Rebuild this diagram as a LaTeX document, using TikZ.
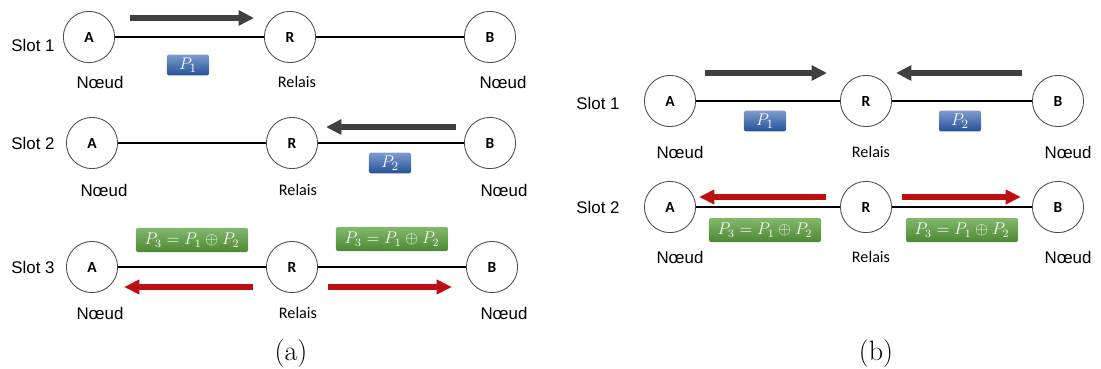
\documentclass[tikz,border=0pt]{standalone}
\usepackage{amsmath,amssymb}
\usepackage{fontspec}
\newfontfamily\labfont{Liberation Sans}
\newfontfamily\calfont{Carlito}
\usetikzlibrary{arrows.meta,positioning}

\definecolor{darkarrow}{RGB}{64,64,64}
\definecolor{redarrow}{RGB}{190,16,16}
\definecolor{pblue}{RGB}{40,90,170}
\definecolor{pgreen}{RGB}{90,160,60}

\tikzset{
  station/.style={circle,draw=black!70,semithick,fill=white,inner sep=0pt,
    minimum size=1.28cm,font=\calfont\fontsize{11}{13}\selectfont\bfseries},
  link/.style={draw=black,line width=0.9pt},
  sendarrow/.style={draw=darkarrow,line width=4.3pt,
    -{Triangle[length=11pt,width=10.5pt]}},
  xorarrow/.style={draw=redarrow,line width=3.6pt,
    -{Triangle[length=11pt,width=10pt]}},
  pkt/.style={rounded corners=1.5pt,minimum width=1.05cm,minimum height=0.52cm,
    inner sep=0pt,text=white,font=\fontsize{12.5}{14}\selectfont,
    top color=pblue!60!white,bottom color=pblue!90!black},
  xorpkt/.style={rounded corners=1.5pt,minimum width=2.8cm,minimum height=0.6cm,
    inner sep=0pt,text=white,font=\fontsize{12}{14}\selectfont,
    top color=pgreen!75!white,bottom color=pgreen!85!black},
  slotlab/.style={font=\labfont\fontsize{12}{14}\selectfont},
  noeud/.style={font=\labfont\fontsize{12}{14}\selectfont},
  relais/.style={font=\calfont\fontsize{11.5}{13}\selectfont},
  caption/.style={font=\fontsize{20}{24}\selectfont}
}

\begin{document}
\begin{tikzpicture}[x=0.025cm,y=-0.025cm]
\useasboundingbox (0,0) rectangle (1101,369);

%------------------------------------- (a) slot 1
\node[station] (a1A) at (89,37) {A};
\node[station] (a1R) at (290,37) {R};
\node[station] (a1B) at (490,37) {B};
\draw[link] (a1A) -- (a1R);
\draw[link] (a1R) -- (a1B);
\coordinate (a1s) at (130,18);
\coordinate (a1e) at (254,18);
\draw[sendarrow] (a1s) -- (a1e);
\node[pkt] (a1P) at (188,65) {$P_1$};
\node[slotlab] (a1lab) at (33,45) {Slot 1};
\node[noeud] (a1nA) at (100,82) {Nœud};
\node[relais] (a1nR) at (297,82) {Relais};
\node[noeud] (a1nB) at (503,82) {Nœud};

%------------------------------------- (a) slot 2
\node[station] (a2A) at (92,143) {A};
\node[station] (a2R) at (292,143) {R};
\node[station] (a2B) at (490,143) {B};
\draw[link] (a2A) -- (a2R);
\draw[link] (a2R) -- (a2B);
\coordinate (a2s) at (456,127);
\coordinate (a2e) at (326,127);
\draw[sendarrow] (a2s) -- (a2e);
\node[pkt] (a2P) at (390,163) {$P_2$};
\node[slotlab] (a2lab) at (33,143) {Slot 2};
\node[noeud] (a2nA) at (104,190) {Nœud};
\node[relais] (a2nR) at (298,190) {Relais};
\node[noeud] (a2nB) at (504,190) {Nœud};

%------------------------------------- (a) slot 3
\node[station] (a3A) at (92,267) {A};
\node[station] (a3R) at (292,267) {R};
\node[station] (a3B) at (492,267) {B};
\draw[link] (a3A) -- (a3R);
\draw[link] (a3R) -- (a3B);
\coordinate (a3ls) at (253,287);
\coordinate (a3le) at (124,287);
\coordinate (a3rs) at (328,287);
\coordinate (a3re) at (452,287);
\draw[xorarrow] (a3ls) -- (a3le);
\draw[xorarrow] (a3rs) -- (a3re);
\node[xorpkt] (a3PA) at (192,240) {$P_3 = P_1 \oplus P_2$};
\node[xorpkt] (a3PB) at (392,239) {$P_3 = P_1 \oplus P_2$};
\node[slotlab] (a3lab) at (33,267) {Slot 3};
\node[noeud] (a3nA) at (100,313) {Nœud};
\node[relais] (a3nR) at (298,313) {Relais};
\node[noeud] (a3nB) at (504,313) {Nœud};
\node[caption] (capa) at (291,353) {(a)};

%------------------------------------- (b) slot 1
\node[station] (b1A) at (670,101) {A};
\node[station] (b1R) at (866,101) {R};
\node[station] (b1B) at (1058,101) {B};
\draw[link] (b1A) -- (b1R);
\draw[link] (b1R) -- (b1B);
\coordinate (b1ls) at (705,73);
\coordinate (b1le) at (827,73);
\coordinate (b1rs) at (1022,73);
\coordinate (b1re) at (896,73);
\draw[sendarrow] (b1ls) -- (b1le);
\draw[sendarrow] (b1rs) -- (b1re);
\node[pkt] (b1P1) at (765,121) {$P_1$};
\node[pkt] (b1P2) at (960,121) {$P_2$};
\node[slotlab] (b1lab) at (598,103) {Slot 1};
\node[noeud] (b1nA) at (680,152) {Nœud};
\node[relais] (b1nR) at (871,152) {Relais};
\node[noeud] (b1nB) at (1068,152) {Nœud};

%------------------------------------- (b) slot 2
\node[station] (b2A) at (670,207) {A};
\node[station] (b2R) at (866,207) {R};
\node[station] (b2B) at (1058,207) {B};
\draw[link] (b2A) -- (b2R);
\draw[link] (b2R) -- (b2B);
\coordinate (b2ls) at (826,197);
\coordinate (b2le) at (699,197);
\coordinate (b2rs) at (902,197);
\coordinate (b2re) at (1021,197);
\draw[xorarrow] (b2ls) -- (b2le);
\draw[xorarrow] (b2rs) -- (b2re);
\node[xorpkt] (b2PA) at (765,230) {$P_3 = P_1 \oplus P_2$};
\node[xorpkt] (b2PB) at (962,230) {$P_3 = P_1 \oplus P_2$};
\node[slotlab] (b2lab) at (598,207) {Slot 2};
\node[noeud] (b2nA) at (680,257) {Nœud};
\node[relais] (b2nR) at (871,257) {Relais};
\node[noeud] (b2nB) at (1068,257) {Nœud};
\node[caption] (capb) at (876,353) {(b)};
\end{tikzpicture}
\end{document}
